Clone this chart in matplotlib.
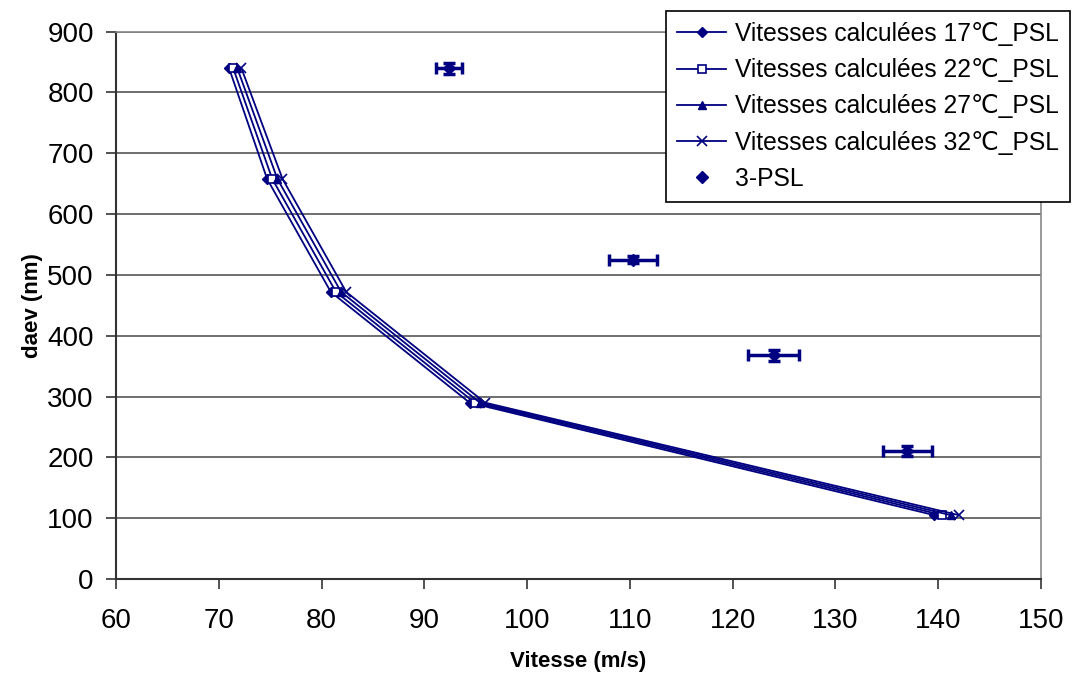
import numpy as np
import matplotlib.pyplot as plt
from matplotlib.lines import Line2D

plt.rcParams['font.family'] = ['Liberation Sans', 'DejaVu Sans']

# calculated velocities (m/s) vs daev (nm)
daev_calc = [840, 658, 472, 290, 105]
v17 = [71.0, 74.7, 80.9, 94.4, 139.6]
v22 = [71.4, 75.2, 81.4, 94.9, 140.4]
v27 = [71.8, 75.7, 81.9, 95.4, 141.2]
v32 = [72.2, 76.2, 82.4, 95.9, 142.0]
labels = ['Vitesses calculées 17℃_PSL', 'Vitesses calculées 22℃_PSL',
          'Vitesses calculées 27℃_PSL', 'Vitesses calculées 32℃_PSL']

# measured 3-PSL
v_psl = [92.4, 110.3, 124.0, 137.0]
daev_psl = [840, 525, 368, 210]
v_err = [1.3, 2.35, 2.5, 2.4]
daev_err = [9, 6, 9, 8]

navy = '#000080'

fig = plt.figure(figsize=(10.77, 6.77), dpi=100)
ax = fig.add_axes([0.1077, 0.1448, 0.8589, 0.8084])

h = []
h += ax.plot(v17, daev_calc, color=navy, lw=1.3, marker='D', ms=5, label=labels[0])
h += ax.plot(v22, daev_calc, color=navy, lw=1.3, marker='s', ms=6, mfc='white', mew=1.2, label=labels[1])
h += ax.plot(v27, daev_calc, color=navy, lw=1.3, marker='^', ms=6, label=labels[2])
h += ax.plot(v32, daev_calc, color=navy, lw=1.3, marker='x', ms=7, mew=1.2, label=labels[3])
ax.errorbar(v_psl, daev_psl, xerr=v_err, yerr=daev_err, fmt='D', color=navy, ms=6,
            elinewidth=2.5, capsize=4, capthick=2.5)
h.append(Line2D([], [], ls='none', marker='D', ms=6, color=navy, label='3-PSL'))

ax.set_xlim(60, 150)
ax.set_ylim(0, 900)
ax.set_xticks(np.arange(60, 151, 10))
ax.set_yticks(np.arange(0, 901, 100))
ax.tick_params(labelsize=20, direction='out', length=7, width=1.2, color='#333333')
ax.tick_params(axis='x', pad=14)
ax.tick_params(axis='y', pad=9)
ax.yaxis.grid(True, color='#555555', lw=1.2)
ax.set_axisbelow(True)
for s in ['left', 'bottom']:
    ax.spines[s].set_color('#333333')
    ax.spines[s].set_linewidth(1.5)
for s in ['top', 'right']:
    ax.spines[s].set_color('#888888')
    ax.spines[s].set_linewidth(1.2)

ax.set_xlabel('Vitesse (m/s)', fontsize=16, fontweight='bold', labelpad=12)
ax.set_ylabel('daev (nm)', fontsize=16, fontweight='bold', labelpad=3)

leg = ax.legend(handles=h, loc='upper right', bbox_to_anchor=(0.9935, 0.984),
                bbox_transform=fig.transFigure, borderaxespad=0, fontsize=17.7,
                frameon=True, fancybox=False, handlelength=2.0, handletextpad=0.35,
                labelspacing=0.5, borderpad=0.45)
leg.get_frame().set_edgecolor('black')
leg.get_frame().set_linewidth(1.2)
leg.get_frame().set_alpha(1)

fig.savefig('out.png', dpi=100)
